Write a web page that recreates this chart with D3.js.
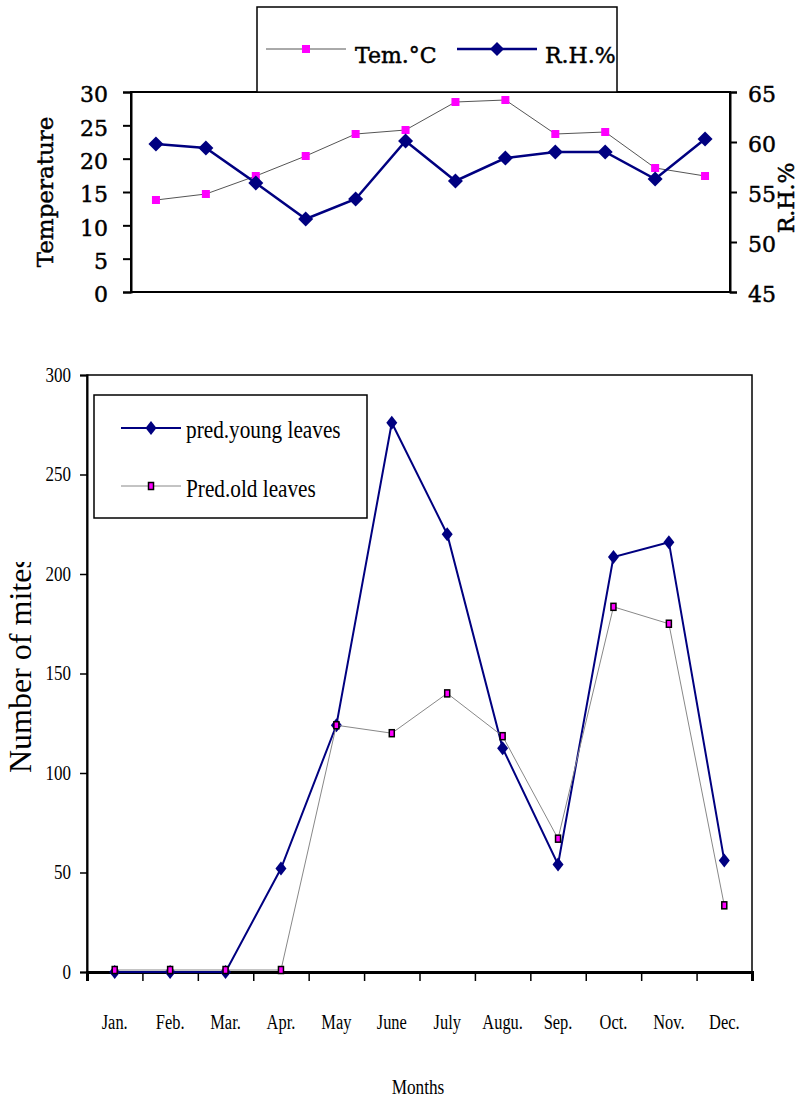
<!DOCTYPE html>
<html>
<head>
<meta charset="utf-8">
<script src="https://cdnjs.cloudflare.com/ajax/libs/d3/7.8.5/d3.min.js"></script>
<style>
body { margin: 0; background: #fff; }
.heavy { stroke: #000; stroke-width: 0.45px; }
</style>
</head>
<body>
<svg id="chart" width="800" height="1099"></svg>
<script>
var months = ["Jan.", "Feb.", "Mar.", "Apr.", "May", "June", "July", "Augu.", "Sep.", "Oct.", "Nov.", "Dec."];
var temperature = [13.8, 14.7, 17.4, 20.4, 23.7, 24.3, 28.5, 28.8, 23.7, 24.0, 18.6, 17.4];
var humidity = [59.8, 59.4, 55.9, 52.3, 54.3, 60.1, 56.1, 58.4, 59.0, 59.0, 56.3, 60.3];
var youngLeaves = [0, 0, 0, 52, 124, 276, 220, 112.5, 54, 208.5, 216, 56];
var oldLeaves = [1, 1, 1, 1, 124, 120, 140, 118.5, 67, 183.5, 175, 33.5];
var tempTicks = [0, 5, 10, 15, 20, 25, 30];
var rhTicks = [45, 50, 55, 60, 65];
var miteTicks = [0, 50, 100, 150, 200, 250, 300];

var navy = "#000080",
    magenta = "#ff00ff";

var svg = d3.select("#chart");

// diamond marker, w x h
function diamond(w, h) {
    return {
        draw: function(ctx) {
            ctx.moveTo(0, -h / 2);
            ctx.lineTo(w / 2, 0);
            ctx.lineTo(0, h / 2);
            ctx.lineTo(-w / 2, 0);
            ctx.closePath();
        }
    };
}

// squeeze text a little, the bottom chart looks horizontally compressed
function condense(sel, k) {
    sel.each(function() {
        var len = this.getComputedTextLength();
        d3.select(this)
            .attr("textLength", len * k)
            .attr("lengthAdjust", "spacingAndGlyphs");
    });
}

/* ---------- top chart: temperature / R.H. ---------- */

var upper = { left: 131, right: 730, top: 92, bottom: 292 };

var xTop = d3.scaleBand().domain(months).range([upper.left, upper.right]);
var yTemp = d3.scaleLinear().domain([0, 30]).range([upper.bottom, upper.top]);
var yRH = d3.scaleLinear().domain([45, 65]).range([upper.bottom, upper.top]);

function cxTop(i) {
    return xTop(months[i]) + xTop.bandwidth() / 2;
}

svg.append("rect")
    .attr("x", upper.left)
    .attr("y", upper.top)
    .attr("width", upper.right - upper.left)
    .attr("height", upper.bottom - upper.top)
    .attr("fill", "none")
    .attr("stroke", "#000")
    .attr("stroke-width", 2);

var leftAxis = svg.append("g")
    .attr("transform", "translate(" + upper.left + ",0)")
    .call(d3.axisLeft(yTemp).tickValues(tempTicks).tickSize(8).tickPadding(15));

var rightAxis = svg.append("g")
    .attr("transform", "translate(" + upper.right + ",0)")
    .call(d3.axisRight(yRH).tickValues(rhTicks).tickSize(7).tickPadding(11));

[leftAxis, rightAxis].forEach(function(ax) {
    ax.select(".domain").attr("stroke-width", 2);
    ax.selectAll(".tick line").attr("stroke-width", 2);
    ax.selectAll("text")
        .attr("class", "heavy")
        .style("font", "22px 'DejaVu Serif'")
        .attr("fill", "#000")
        .attr("dy", "0.45em");
});

svg.append("text")
    .attr("class", "heavy")
    .attr("transform", "translate(53,192) rotate(-90)")
    .attr("text-anchor", "middle")
    .style("font", "23px 'DejaVu Serif'")
    .text("Temperature");

svg.append("text")
    .attr("class", "heavy")
    .attr("transform", "translate(794,198) rotate(-90)")
    .attr("text-anchor", "middle")
    .style("font", "22px 'DejaVu Serif'")
    .text("R.H.%");

var tempLine = d3.line()
    .x(function(d, i) { return cxTop(i); })
    .y(function(d) { return yTemp(d); });

var rhLine = d3.line()
    .x(function(d, i) { return cxTop(i); })
    .y(function(d) { return yRH(d); });

svg.append("path")
    .datum(temperature)
    .attr("d", tempLine)
    .attr("fill", "none")
    .attr("stroke", "#555")
    .attr("stroke-width", 1);

svg.selectAll(".temp-pt")
    .data(temperature)
    .enter()
    .append("rect")
    .attr("class", "temp-pt")
    .attr("x", function(d, i) { return cxTop(i) - 4; })
    .attr("y", function(d) { return yTemp(d) - 4; })
    .attr("width", 8)
    .attr("height", 8)
    .attr("fill", magenta);

svg.append("path")
    .datum(humidity)
    .attr("d", rhLine)
    .attr("fill", "none")
    .attr("stroke", navy)
    .attr("stroke-width", 2.5);

svg.selectAll(".rh-pt")
    .data(humidity)
    .enter()
    .append("path")
    .attr("class", "rh-pt")
    .attr("transform", function(d, i) {
        return "translate(" + cxTop(i) + "," + yRH(d) + ")";
    })
    .attr("d", d3.symbol(diamond(15, 15)))
    .attr("fill", navy);

// top legend
var legTop = svg.append("g");

legTop.append("rect")
    .attr("x", 257)
    .attr("y", 7)
    .attr("width", 360)
    .attr("height", 85)
    .attr("fill", "#fff")
    .attr("stroke", "#000")
    .attr("stroke-width", 1.5);

legTop.append("line")
    .attr("x1", 266).attr("x2", 346)
    .attr("y1", 49).attr("y2", 49)
    .attr("stroke", "#555")
    .attr("stroke-width", 1);

legTop.append("rect")
    .attr("x", 302).attr("y", 45)
    .attr("width", 8).attr("height", 8)
    .attr("fill", magenta);

legTop.append("text")
    .attr("class", "heavy")
    .attr("x", 355).attr("y", 63)
    .style("font", "22px 'DejaVu Serif'")
    .text("Tem.°C");

legTop.append("line")
    .attr("x1", 457).attr("x2", 537)
    .attr("y1", 49).attr("y2", 49)
    .attr("stroke", navy)
    .attr("stroke-width", 2.5);

legTop.append("path")
    .attr("transform", "translate(497,49)")
    .attr("d", d3.symbol(diamond(14, 14)))
    .attr("fill", navy);

legTop.append("text")
    .attr("class", "heavy")
    .attr("x", 545).attr("y", 63)
    .style("font", "22px 'DejaVu Serif'")
    .text("R.H.%");

/* ---------- bottom chart: predators ---------- */

var lower = { left: 87, right: 752, top: 375, bottom: 972 };

var xBot = d3.scaleBand().domain(months).range([lower.left, lower.right]);
var xEdges = d3.scaleLinear().domain([0, months.length]).range([lower.left, lower.right]);
var yMites = d3.scaleLinear().domain([0, 300]).range([lower.bottom, lower.top]);

function cxBot(i) {
    return xBot(months[i]) + xBot.bandwidth() / 2;
}

svg.append("rect")
    .attr("x", lower.left)
    .attr("y", lower.top)
    .attr("width", lower.right - lower.left)
    .attr("height", lower.bottom - lower.top)
    .attr("fill", "none")
    .attr("stroke", "#000")
    .attr("stroke-width", 1.5);

var yAxisBot = svg.append("g")
    .attr("transform", "translate(" + lower.left + ",0)")
    .call(d3.axisLeft(yMites).tickValues(miteTicks).tickSize(7).tickPadding(9));

yAxisBot.select(".domain").attr("stroke-width", 2);
yAxisBot.selectAll(".tick line").attr("stroke-width", 1.5);
yAxisBot.selectAll("text")
    .style("font", "20px 'Liberation Serif'")
    .attr("fill", "#000")
    .call(condense, 0.85);

// tick marks sit on the month boundaries
var xTicks = svg.append("g")
    .attr("transform", "translate(0," + lower.bottom + ")")
    .call(d3.axisBottom(xEdges).ticks(12).tickSize(9).tickFormat(""));

xTicks.select(".domain").attr("stroke-width", 3);
xTicks.selectAll(".tick line").attr("stroke-width", 1.5);

var xLabels = svg.append("g")
    .attr("transform", "translate(0," + lower.bottom + ")")
    .call(d3.axisBottom(xBot).tickSize(0).tickPadding(43));

xLabels.select(".domain").remove();
xLabels.selectAll("text")
    .style("font", "20px 'Liberation Serif'")
    .attr("fill", "#000")
    .call(condense, 0.82);

svg.append("text")
    .attr("x", 418)
    .attr("y", 1094)
    .attr("text-anchor", "middle")
    .style("font", "21px 'Liberation Serif'")
    .text("Months")
    .call(condense, 0.82);

// the title is cut at the top in the original, the clip sits on an untransformed group
svg.append("clipPath")
    .attr("id", "title-clip")
    .append("rect")
    .attr("x", 0).attr("y", 562)
    .attr("width", 80).attr("height", 300);

svg.append("g")
    .attr("clip-path", "url(#title-clip)")
    .append("text")
    .attr("transform", "translate(31,773) rotate(-90)")
    .attr("text-anchor", "start")
    .style("font", "32px 'Liberation Serif'")
    .text("Number of mites");

var miteLine = d3.line()
    .x(function(d, i) { return cxBot(i); })
    .y(function(d) { return yMites(d); });

svg.append("path")
    .datum(youngLeaves)
    .attr("d", miteLine)
    .attr("fill", "none")
    .attr("stroke", navy)
    .attr("stroke-width", 2);

svg.selectAll(".young-pt")
    .data(youngLeaves)
    .enter()
    .append("path")
    .attr("class", "young-pt")
    .attr("transform", function(d, i) {
        return "translate(" + cxBot(i) + "," + yMites(d) + ")";
    })
    .attr("d", d3.symbol(diamond(11, 14)))
    .attr("fill", navy);

svg.append("path")
    .datum(oldLeaves)
    .attr("d", miteLine)
    .attr("fill", "none")
    .attr("stroke", "#888")
    .attr("stroke-width", 1);

svg.selectAll(".old-pt")
    .data(oldLeaves)
    .enter()
    .append("rect")
    .attr("class", "old-pt")
    .attr("x", function(d, i) { return cxBot(i) - 2.5; })
    .attr("y", function(d) { return yMites(d) - 3.5; })
    .attr("width", 5)
    .attr("height", 7)
    .attr("fill", magenta)
    .attr("stroke", "#000")
    .attr("stroke-width", 1.5);

// bottom legend
var legBot = svg.append("g");

legBot.append("rect")
    .attr("x", 94)
    .attr("y", 395)
    .attr("width", 273)
    .attr("height", 123)
    .attr("fill", "#fff")
    .attr("stroke", "#000")
    .attr("stroke-width", 1.5);

legBot.append("line")
    .attr("x1", 121).attr("x2", 181)
    .attr("y1", 428).attr("y2", 428)
    .attr("stroke", navy)
    .attr("stroke-width", 2);

legBot.append("path")
    .attr("transform", "translate(151,428)")
    .attr("d", d3.symbol(diamond(11, 14)))
    .attr("fill", navy);

legBot.append("text")
    .attr("x", 186).attr("y", 438)
    .style("font", "25px 'Liberation Serif'")
    .text("pred.young leaves")
    .call(condense, 0.85);

legBot.append("line")
    .attr("x1", 121).attr("x2", 181)
    .attr("y1", 486).attr("y2", 486)
    .attr("stroke", "#888")
    .attr("stroke-width", 1);

legBot.append("rect")
    .attr("x", 148.5).attr("y", 482.5)
    .attr("width", 5).attr("height", 7)
    .attr("fill", magenta)
    .attr("stroke", "#000")
    .attr("stroke-width", 1.5);

legBot.append("text")
    .attr("x", 186).attr("y", 497)
    .style("font", "25px 'Liberation Serif'")
    .text("Pred.old leaves")
    .call(condense, 0.85);
</script>
</body>
</html>
